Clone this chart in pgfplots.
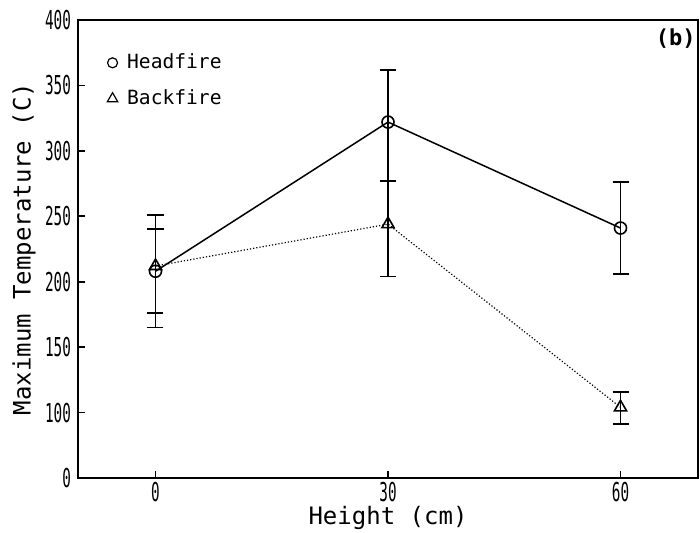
\documentclass[border=0pt]{standalone}
\usepackage{fontspec}
\setmainfont{DejaVu Sans Mono}
\usepackage{graphicx}
\usepackage{pgfplots}
\pgfplotsset{compat=1.18}
% narrow, tall digits like the plotter font
\newcommand{\nd}[1]{\scalebox{0.55}[1]{#1}}

\begin{document}
\begin{tikzpicture}
\begin{axis}[
    scale only axis,
    width=310pt,
    height=229pt,
    xmin=-10, xmax=70,
    ymin=50, ymax=400,
    xtick={0,30,60},
    xticklabels={\nd{0},\nd{30},\nd{60}},
    ytick={50,100,150,200,250,300,350,400},
    yticklabels={\nd{0},\nd{100},\nd{150},\nd{200},\nd{250},\nd{300},\nd{350},\nd{400}},
    tick label style={font=\fontsize{13}{13}\selectfont},
    xticklabel style={inner sep=1pt, yshift=-1pt},
    xtick pos=bottom, ytick pos=left,
    tick align=inside,
    major tick length=3.5pt,
    axis line style={line width=1pt},
    every tick/.style={line width=0.8pt, black},
    xlabel={Height (cm)},
    ylabel={Maximum Temperature (C)},
    label style={font=\fontsize{12}{12}\selectfont},
    xlabel style={at={(axis description cs:0.5,-0.088)}, anchor=center, inner sep=1pt},
    ylabel style={at={(axis description cs:-0.087,0.5)}, anchor=center},
    legend style={at={(axis description cs:0.038,0.94)}, anchor=north west,
        draw=none, fill=none, font=\fontsize{9.8}{10}\selectfont,
        row sep=5pt, inner sep=1pt},
    legend cell align=left,
    legend image code/.code={\path (0pt,0pt) (9pt,0pt);
        \draw[#1] plot coordinates {(4pt,0pt)};},
    error bars/error bar style={line width=0.9pt, black, solid},
    error bars/error mark options={line width=0.9pt, black, solid, mark size=4pt, rotate=90},
]
\addlegendimage{only marks, mark=o, mark size=2.5pt, black, line width=0.6pt}
\addlegendentry{Headfire}
\addlegendimage{only marks, mark=triangle, mark size=3pt, black, line width=0.6pt}
\addlegendentry{Backfire}

% Headfire
\addplot[forget plot, black, line width=0.75pt, mark=o, mark size=3pt,
    mark options={solid, line width=0.8pt},
    error bars/.cd, y dir=both, y explicit]
coordinates {
    (0, 208)  +=(0,43) -=(0,43)
    (30, 322) +=(0,40) -=(0,45)
    (60, 241) +=(0,35) -=(0,35)
};
% Backfire
\addplot[forget plot, black, line width=0.6pt, densely dotted, mark=triangle, mark size=3.5pt,
    mark options={solid, line width=0.8pt},
    error bars/.cd, y dir=both, y explicit]
coordinates {
    (0, 212)  +=(0,28) -=(0,36)
    (30, 244) +=(0,33) -=(0,40)
    (60, 104) +=(0,12) -=(0,13)
};
\node[anchor=north east, inner sep=1pt, font=\fontsize{11}{11}\selectfont\bfseries]
    at (rel axis cs:1,0.985) {(b)};
\end{axis}
\pgfresetboundingbox
\path (current axis.south west) ++(-39pt,-27.5pt) rectangle ([shift={(1pt,10pt)}]current axis.north east);
\end{tikzpicture}
\end{document}
